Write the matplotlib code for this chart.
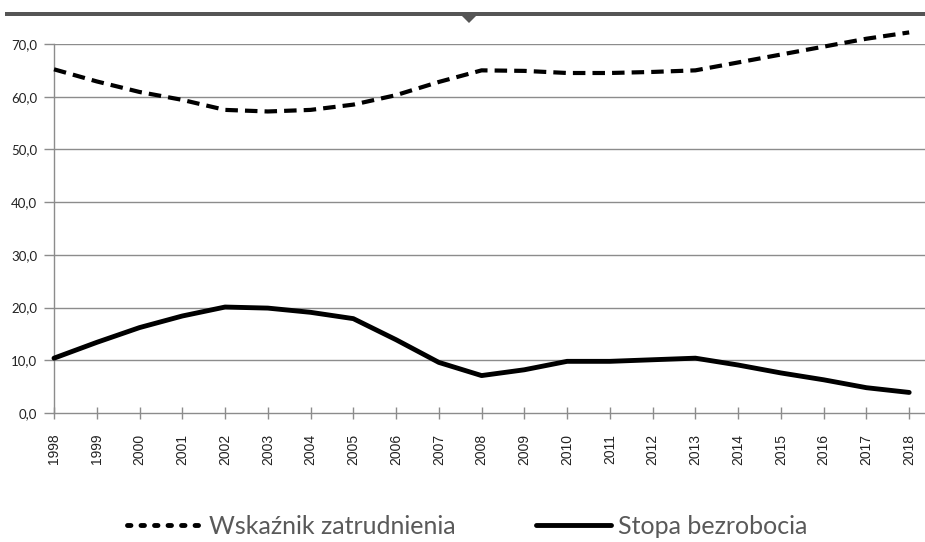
import matplotlib
matplotlib.use("Agg")
import matplotlib.pyplot as plt
from matplotlib.lines import Line2D
from matplotlib.patches import Polygon, Rectangle

years = [str(y) for y in range(1998, 2019)]
employment = [65.2, 62.9, 60.9, 59.4, 57.5, 57.2, 57.5, 58.5, 60.3, 62.8, 65.0,
              64.9, 64.5, 64.5, 64.7, 65.0, 66.5, 68.0, 69.5, 71.0, 72.2]
unemployment = [10.4, 13.4, 16.2, 18.4, 20.1, 19.9, 19.1, 17.9, 13.9, 9.6, 7.1,
                8.2, 9.8, 9.8, 10.1, 10.4, 9.1, 7.6, 6.3, 4.8, 3.9]
yticks = [0, 10, 20, 30, 40, 50, 60, 70]
ytick_labels = ["0,0", "10,0", "20,0", "30,0", "40,0", "50,0", "60,0", "70,0"]
series_names = ["Wskaźnik zatrudnienia", "Stopa bezrobocia"]

plt.rcParams['font.family'] = ['Lato', 'DejaVu Sans']

W, H = 925, 542
fig = plt.figure(figsize=(W / 100, H / 100), dpi=100)
ax = fig.add_axes([54 / W, 1 - 413 / H, 1 - 54 / W, (413 - 44) / H])

x = list(range(len(years)))
grid_c = '#8c8c8c'
for v in yticks[1:]:
    ax.axhline(v, color=grid_c, lw=1.0, zorder=1)

ax.plot(x, employment, color='black', lw=3, linestyle=(0, (3.0, 1.7)),
        clip_on=False, zorder=3, dash_capstyle='butt')
ax.plot(x, unemployment, color='black', lw=3.5, clip_on=False, zorder=3,
        solid_capstyle='round')

ax.set_xlim(0, 20.37)
ax.set_ylim(0, 70)
ax.set_xticks(x)
ax.set_xticklabels(years, rotation=90, fontsize=10, color='#222222',
                   family=['Liberation Sans', 'DejaVu Sans'])
ax.set_yticks(yticks)
ax.set_yticklabels(ytick_labels, fontsize=9.5, color='#222222')
ax.tick_params(axis='x', length=9, width=1, color=grid_c, pad=10.5, direction='inout')
ax.tick_params(axis='y', length=7.5, width=1, color=grid_c, pad=4.5, direction='out')
for s in ['top', 'right']:
    ax.spines[s].set_visible(False)
for s in ['left', 'bottom']:
    ax.spines[s].set_color(grid_c)
    ax.spines[s].set_linewidth(1.0)

# top decoration bar with small triangle
bar_c = '#555555'
fig.patches.append(Rectangle((5 / W, 1 - 16 / H), 1 - 5 / W, 4 / H,
                             transform=fig.transFigure, color=bar_c, lw=0))
fig.patches.append(Polygon([(460 / W, 1 - 14 / H), (478 / W, 1 - 14 / H),
                            (469 / W, 1 - 23 / H)], closed=True,
                           transform=fig.transFigure, color=bar_c, lw=0))

handles = [Line2D([], [], color='black', lw=3.5, linestyle=(0, (0.71, 2.07)),
                  dash_capstyle='round'),
           Line2D([], [], color='black', lw=3.5, solid_capstyle='round')]
leg = fig.legend(handles, series_names, loc='center', bbox_to_anchor=(0.505, 1 - 526 / H),
                 ncol=2, frameon=False, fontsize=18, handlelength=3.0,
                 handletextpad=0.28, columnspacing=3.2, labelcolor='#595959',
                 borderpad=0, borderaxespad=0)

fig.savefig('out.png', dpi=100)
